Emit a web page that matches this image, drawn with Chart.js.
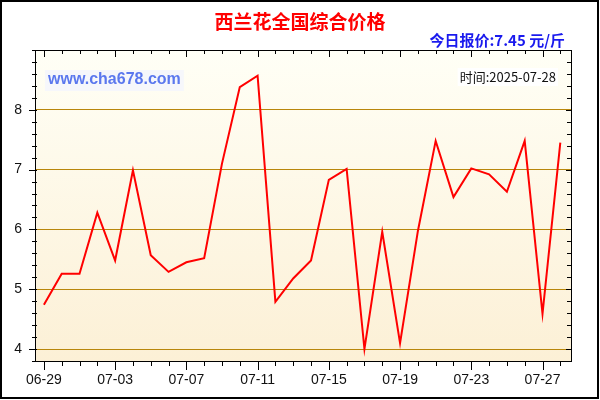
<!DOCTYPE html>
<html>
<head>
<meta charset="utf-8">
<script src="https://cdn.jsdelivr.net/npm/chart.js@4.4.0/dist/chart.umd.min.js"></script>
<style>
	html, body { margin: 0; padding: 0; background: #fff; }
	#wrap { width: 600px; height: 400px; }
</style>
</head>
<body>
<div id="wrap"><canvas id="priceChart" width="600" height="400"></canvas></div>
<script>
	// ===== DATA =====
	const dates = ['06-29', '06-30', '07-01', '07-02', '07-03', '07-04', '07-05', '07-06', '07-07', '07-08',
		'07-09', '07-10', '07-11', '07-12', '07-13', '07-14', '07-15', '07-16', '07-17', '07-18',
		'07-19', '07-20', '07-21', '07-22', '07-23', '07-24', '07-25', '07-26', '07-27', '07-28'];
	const prices = [4.74, 5.26, 5.26, 6.28, 5.48, 6.99, 5.57, 5.29, 5.45, 5.52,
		7.10, 8.38, 8.57, 4.79, 5.18, 5.48, 6.83, 7.01, 4.00, 5.96,
		4.10, 5.97, 7.48, 6.54, 7.02, 6.92, 6.63, 7.48, 4.59, 7.45];
	const yTickLabels = [4, 5, 6, 7, 8];
	const titleText = '西兰花全国综合价格';
	const todayText = '今日报价:7.45 元/斤';
	const siteText = 'www.cha678.com';
	const timeText = '时间:2025-07-28';

	const isMajorY = v => Math.abs(v - Math.round(v)) < 1e-6 && yTickLabels.includes(Math.round(v));

	// background, frame, ticks and texts
	const decorPlugin = {
		id: 'decor',
		beforeDraw(chart) {
			const ctx = chart.ctx;
			const a = chart.chartArea;
			ctx.save();
			ctx.fillStyle = '#ffffff';
			ctx.fillRect(0, 0, chart.width, chart.height);
			const g = ctx.createLinearGradient(0, a.top, 0, a.bottom);
			g.addColorStop(0, '#fffff6');
			g.addColorStop(1, '#fcf0d6');
			ctx.fillStyle = g;
			ctx.fillRect(a.left, a.top, a.right - a.left, a.bottom - a.top);
			ctx.restore();
		},
		afterDraw(chart) {
			const ctx = chart.ctx;
			const a = chart.chartArea;
			const xs = chart.scales.x;
			const ys = chart.scales.y;
			ctx.save();
			ctx.strokeStyle = '#000';
			ctx.lineWidth = 1;

			// plot frame
			ctx.strokeRect(Math.round(a.left) + 0.5, Math.round(a.top) + 0.5,
				Math.round(a.right - a.left), Math.round(a.bottom - a.top));

			ctx.beginPath();
			// x ticks (every day, major every 4 days)
			dates.forEach((d, i) => {
				const px = Math.round(xs.getPixelForValue(i)) + 0.5;
				const major = i % 4 === 0;
				ctx.moveTo(px, a.bottom);
				ctx.lineTo(px, a.bottom + (major ? 9 : 5));
				ctx.moveTo(px, a.top);
				ctx.lineTo(px, a.top + (major ? 7 : 4));
			});
			// y ticks (every 0.2)
			for (let k = 0; ; k++) {
				const v = ys.min + k * 0.2;
				if (v > ys.max + 1e-6) break;
				const py = Math.round(ys.getPixelForValue(v)) + 0.5;
				const major = isMajorY(v);
				ctx.moveTo(a.left - (major ? 6 : 3), py);
				ctx.lineTo(a.left + 2, py);
				ctx.moveTo(a.right, py);
				ctx.lineTo(a.right - (major ? 5 : 4), py);
			}
			ctx.stroke();

			// outer border
			ctx.lineWidth = 2;
			ctx.strokeRect(1, 1, chart.width - 3, chart.height - 3);

			// title
			ctx.textBaseline = 'middle';
			ctx.textAlign = 'center';
			ctx.fillStyle = '#ff0000';
			ctx.font = 'bold 19px "Noto Sans CJK SC"';
			ctx.fillText(titleText, 300, 22);

			// today price
			ctx.textAlign = 'right';
			ctx.fillStyle = '#1a1aee';
			ctx.font = 'bold 15px "Noto Sans CJK SC"';
			ctx.fillText(todayText, 565, 40);

			// site mark
			ctx.font = 'bold 16px "Liberation Sans", Arial, sans-serif';
			ctx.textAlign = 'left';
			const sw = ctx.measureText(siteText).width;
			ctx.fillStyle = '#f6f7fb';
			ctx.fillRect(45, 70, sw + 6, 21);
			ctx.fillStyle = '#5b78ee';
			ctx.fillText(siteText, 48, 80);

			// time stamp
			ctx.font = '13px "Noto Sans CJK SC"';
			ctx.textAlign = 'right';
			const tw = ctx.measureText(timeText).width;
			ctx.fillStyle = '#ffffff';
			ctx.fillRect(556 - tw - 2, 68, tw + 4, 18);
			ctx.fillStyle = '#111';
			ctx.fillText(timeText, 556, 77);
			ctx.restore();
		}
	};

	new Chart(document.getElementById('priceChart'), {
		type: 'line',
		data: {
			datasets: [{
				data: prices.map((p, i) => ({ x: i, y: p })),
				borderColor: '#ff0000',
				borderWidth: 2,
				pointRadius: 0,
				tension: 0,
				fill: false
			}]
		},
		options: {
			responsive: false,
			animation: false,
			layout: { padding: { top: 50, right: 29, left: 0, bottom: 0 } },
			plugins: {
				legend: { display: false },
				tooltip: { enabled: false }
			},
			scales: {
				x: {
					type: 'linear',
					min: -0.5,
					max: 29.6,
					afterFit: s => { s.height = 39; },
					afterBuildTicks: s => {
						s.ticks = dates.map((d, i) => ({ value: i })).filter(t => t.value % 4 === 0);
					},
					ticks: {
						autoSkip: false,
						maxRotation: 0,
						padding: 11,
						color: '#111',
						font: { family: '"Liberation Sans", Arial, sans-serif', size: 14 },
						callback: v => dates[v]
					},
					grid: { display: false, drawTicks: false },
					border: { display: false }
				},
				y: {
					min: 3.8,
					max: 9.0,
					afterFit: s => { s.width = 35; },
					afterBuildTicks: s => {
						s.ticks = yTickLabels.map(v => ({ value: v }));
					},
					ticks: {
						padding: 13,
						color: '#111',
						font: { family: '"Liberation Sans", Arial, sans-serif', size: 14 }
					},
					grid: {
						color: '#b8860b',
						lineWidth: 1,
						drawTicks: false
					},
					border: { display: false }
				}
			}
		},
		plugins: [decorPlugin]
	});
</script>
</body>
</html>
